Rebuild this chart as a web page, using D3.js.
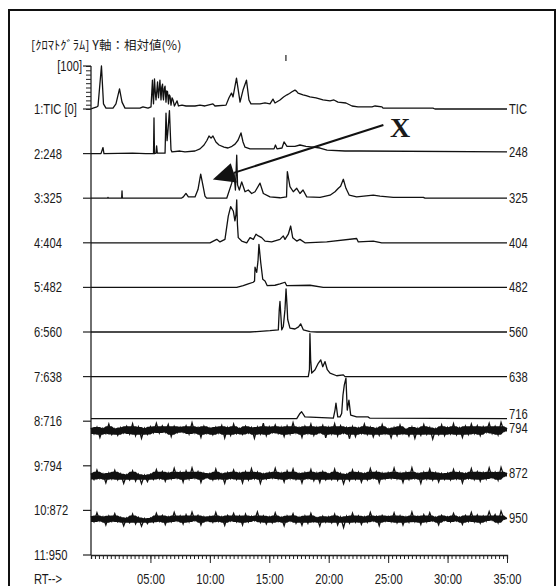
<!doctype html>
<html lang="ja">
<head>
<meta charset="utf-8">
<title>chromatogram</title>
<style>
body { margin: 0; background: #fff; }
svg text { font-family: "Liberation Sans", Arial, sans-serif; font-size: 14px; fill: #1a1a1a; }
.trace { fill: none; stroke: #111; stroke-width: 1.3; stroke-linejoin: round; }
.noise { fill: none; stroke: #111; stroke-width: 1.3; }
.noiseband { fill: #111; stroke: none; }
.axis path, .axis line { stroke: #222; }
</style>
</head>
<body>
<div id="chart"></div>
<script src="https://cdn.jsdelivr.net/npm/d3@7"></script>
<script>
// ---------- data (RT in minutes, intensity in % of each trace's max)
var leftLabels  = ["1:TIC [0]", "2:248", "3:325", "4:404", "5:482", "6:560", "7:638", "8:716", "9:794", "10:872", "11:950"];
var rightLabels = ["TIC", "248", "325", "404", "482", "560", "638", "716", "794", "872", "950"];
var timeTicks = [5, 10, 15, 20, 25, 30, 35];

var tic = [[0,0],[0.17,2],[0.5,5],[0.59,7],[0.88,100],[1.05,12],[1.26,2],[1.85,2],[2.1,12],[2.4,47],[2.61,16],[2.86,2],
  [4.12,2],[4.37,5],[4.8,2],[5.05,5],[5.17,67],[5.22,30],[5.26,12],[5.34,70],[5.42,35],[5.47,21],[5.6,63],[5.64,40],[5.68,26],
  [5.8,67],[5.84,45],[5.89,21],[5.95,50],[6.02,58],[6.06,30],[6.1,21],[6.17,48],[6.23,53],[6.31,16],[6.37,42],[6.44,40],
  [6.52,12],[6.58,33],[6.65,30],[6.73,9],[6.82,26],[6.9,21],[7.02,7],[7.24,19],[7.36,7],
  [7.66,9],[8.0,7],[8.75,7],[9.17,9],[9.59,7],[10.26,12],[10.43,7],[11.36,9],[11.61,26],[11.82,37],[11.95,28],[12.24,72],
  [12.54,16],[12.79,44],[13.08,67],[13.29,21],[13.46,12],[14.22,12],[14.64,14],[15.06,12],[15.31,23],[15.48,14],[15.9,21],
  [16.2,28],[16.49,33],[16.7,36],[16.91,40],[17.16,44],[17.3,41],[17.42,37],[17.84,33],[18.1,31],[18.42,28],[18.93,26],
  [19.52,21],[20.11,19],[20.44,21],[20.78,16],[21.45,14],[21.96,7],[22.46,5],[23.64,5],[23.9,7],[24.48,5],[24.57,2],
  [28.77,2],[28.94,0],[35,0]];
var ion248 = [[0,0],[0.84,0],[1.01,14],[1.09,0],[3.5,1],[4.6,0],[5.26,0],[5.3,83],[5.34,0],[5.47,1],[5.52,18],[5.58,1],
  [6.23,1],[6.31,94],[6.4,30],[6.48,55],[6.6,100],[6.73,9],[6.81,4],[7.49,6],[7.91,4],[8.75,6],[9.17,11],[9.51,20],
  [9.76,31],[9.93,41],[10.1,36],[10.26,41],[10.51,27],[10.77,20],[11.19,15],[11.53,13],[11.86,17],[12.12,22],[12.37,31],
  [12.62,48],[12.79,27],[12.96,15],[13.38,11],[15.4,11],[15.52,20],[15.65,11],[16.07,13],[16.24,27],[16.49,17],[17.16,17],
  [17.58,20],[18.09,17],[18.68,15],[19.27,13],[19.86,8],[21.37,6],[22.63,6],[35,4]];
var ion325 = [[0,0],[1.4,0],[1.43,2],[1.46,0],[2.58,0],[2.61,17],[2.64,0],[7.6,0],[7.77,3],[7.99,11],[8.19,3],[8.75,3],
  [9.0,20],[9.23,56],[9.45,25],[9.59,5],[9.73,0],[11.42,0],[11.84,35],[12.03,58],[12.15,19],[12.26,100],[12.33,31],
  [12.48,19],[12.68,38],[12.96,15],[13.23,19],[13.52,11],[13.8,15],[14.22,35],[14.5,11],[15.06,3],[15.9,1],[16.45,3],
  [16.52,62],[16.74,27],[17.02,15],[17.31,23],[17.58,11],[17.84,19],[18.15,3],[19.27,2],[20.11,7],[20.53,15],[20.81,23],
  [21.0,28],[21.23,44],[21.45,23],[21.73,7],[22.35,3],[23.75,7],[24.31,5],[25.43,2],[27.96,2],[28.1,0],[35,0]];
var ion404 = [[0,0],[10.01,0],[10.29,4],[10.58,8],[10.85,2],[11.27,8],[11.55,62],[11.75,84],[11.97,74],[12.11,51],[12.2,66],
  [12.26,100],[12.32,43],[12.39,12],[12.68,4],[13.1,0],[13.38,12],[13.66,8],[13.88,20],[14.08,16],[14.36,12],[14.64,4],
  [15.2,2],[15.9,8],[16.18,16],[16.32,8],[16.6,20],[16.8,39],[16.97,12],[17.31,4],[17.58,8],[18.0,0],[19.83,2],[22.35,10],
  [22.49,2],[23.75,4],[24.46,0],[35,0]];
var ion482 = [[0,0],[12.26,0],[12.81,4],[13.23,8],[13.65,12],[13.76,15],[13.8,47],[13.94,35],[14.05,61],[14.13,100],
  [14.28,58],[14.45,19],[14.64,15],[14.83,4],[15.48,5],[15.9,8],[16.32,12],[16.47,4],[18.43,5],[19.54,0],[35,0]];
var ion560 = [[0,0],[13.38,0],[13.94,1],[15.06,3],[15.76,5],[15.84,52],[15.9,71],[15.97,40],[16.05,5],[16.18,13],[16.32,52],
  [16.41,100],[16.49,63],[16.55,29],[16.74,9],[17.16,7],[17.46,12],[17.64,19],[17.86,5],[18.43,1],[19.0,0],[35,0]];
var ion638 = [[0,0],[18.28,0],[18.38,16],[18.42,100],[18.48,39],[18.57,8],[18.85,16],[19.12,31],[19.33,39],[19.5,23],
  [19.69,35],[19.88,16],[20.11,8],[20.67,2],[21.23,4],[21.37,0],[35,0]];
var ion716 = [[0,6],[17.31,6],[17.58,18],[17.72,22],[18.0,10],[20.39,7],[20.53,26],[20.61,42],[20.76,10],[20.95,10],
  [21.09,18],[21.2,61],[21.31,84],[21.45,100],[21.56,26],[21.7,49],[21.85,14],[22.35,10],[23.3,10],[23.47,7],[35,6]];

// noise-only channels, one reading per scan (scan every 0.25 min from 0 to 35)
var scanStep = 0.25;
var noise794 = [88,74,90,66,87,75,97,73,86,71, 89,76,92,74,98,70,90,64,87,73, 91,77,99,76,93,78,96,68,92,77,
  90,78,93,74,100,76,89,66,92,75, 88,72,90,76,94,65,89,71,97,75, 87,73,92,76,89,64,90,74,99,70,
  91,77,95,75,90,68,93,74,100,76, 89,66,92,75,97,71,90,77,94,65, 90,74,98,70,93,76,89,63,91,68,
  88,75,97,73,90,67,87,71,96,74, 86,65,89,70,95,74,85,69,90,64, 87,71,96,73,89,62,86,72,95,70,
  89,74,98,72,88,66,92,73,97,75, 93,70,91,78,99,75,92,72,101,80, 88];
var noise872 = [86,72,94,74,85,64,87,73,93,71, 85,63,83,71,92,68,84,62,82,67, 84,72,95,74,90,68,87,73,98,75,
  89,66,92,73,99,75,90,65,87,76, 86,71,96,73,85,63,88,74,94,72, 87,64,90,71,97,74,89,63,85,73,
  88,75,98,73,87,66,92,74,96,72, 86,64,88,74,95,69,87,65,90,71, 85,72,96,70,86,62,84,69,94,72,
  89,66,86,71,97,75,90,64,87,73, 88,74,98,73,87,65,89,72,99,74, 86,63,89,73,96,71,88,66,86,72,
  87,71,95,73,89,64,86,74,97,72, 90,68,88,73,99,76,89,70,100,79, 87];
var noise950 = [90,77,98,79,89,70,91,78,96,77, 88,68,86,75,95,72,87,67,85,73, 86,76,97,78,92,71,89,77,99,79,
  91,72,94,77,100,80,92,70,89,79, 90,76,99,78,89,69,92,79,97,77, 91,70,95,77,90,80,100,76,91,72,
  89,75,98,78,88,68,91,79,96,74, 88,69,91,74,97,77,87,67,90,76, 89,75,95,70,88,64,90,74,97,76,
  91,71,89,76,99,79,90,68,92,78, 90,77,98,75,91,70,89,76,100,77, 90,71,94,77,98,79,88,70,92,80,
  89,77,97,79,88,71,92,78,99,77, 93,74,91,79,101,81,94,75,102,83, 86];

var peakTraces = [tic, ion248, ion325, ion404, ion482, ion560, ion638, ion716];
var noiseTraces = [noise794, noise872, noise950];

// ---------- layout
var width = 556, height = 586;
var narrowK = 0.8;   // the instrument font is a condensed one
var svg = d3.select("#chart").append("svg").attr("width", width).attr("height", height);

var x = d3.scaleLinear().domain([0, 35]).range([91, 507]);
var row = d3.scaleLinear().domain([0, 10]).range([109, 555]);   // baseline of trace i
var amp = d3.scaleLinear().domain([0, 100]).range([0, 43]);      // 100% height
var labelShift = [0, 0, 0, 0, 0, 0, 0, -5, 0, 0, 0];

function narrow(sel, fx, fy) {
  sel.attr("transform", (d, i) => "translate(" + fx(d, i) + "," + fy(d, i) + ") scale(" + narrowK + ",1)");
}

// frame
svg.append("rect").attr("x", 9).attr("y", 10).attr("width", 546).attr("height", 600)
  .attr("fill", "none").attr("stroke", "#111").attr("stroke-width", 2);

svg.append("text").attr("x", 31).attr("y", 50)
  .style("font-family", "'Noto Sans CJK JP', sans-serif").style("font-size", "12.5px")
  .text("[ｸﾛﾏﾄｸﾞﾗﾑ]  Y軸：相対値(%)");

// little marker above TIC
svg.append("line").attr("x1", x(16.4)).attr("x2", x(16.4)).attr("y1", 55).attr("y2", 61)
  .attr("stroke", "#222").attr("stroke-width", 1.2);

// ---------- left axis
var yAxisG = svg.append("g").attr("class", "axis");
yAxisG.append("line").attr("x1", 91).attr("x2", 91).attr("y1", row(0) - amp(100)).attr("y2", row(10))
  .attr("stroke", "#222").attr("stroke-width", 1.3);

var ticY = d3.scaleLinear().domain([0, 100]).range([row(0), row(0) - amp(100)]);
yAxisG.append("g").attr("transform", "translate(91,0)")
  .call(d3.axisLeft(ticY).ticks(10).tickSize(5).tickFormat(""))
  .call(g => g.select(".domain").remove());

yAxisG.selectAll(".rowtick").data(leftLabels).enter().append("line")
  .attr("x1", 83).attr("x2", 91)
  .attr("y1", (d, i) => row(i)).attr("y2", (d, i) => row(i))
  .attr("stroke", "#222").attr("stroke-width", 1.2);
yAxisG.append("line").attr("x1", 83).attr("x2", 91).attr("y1", ticY(100)).attr("y2", ticY(100))
  .attr("stroke", "#222").attr("stroke-width", 1.2);

svg.selectAll(".leftlab").data(leftLabels).enter().append("text")
  .call(narrow, () => 34, (d, i) => row(i) + 5).text(d => d);
svg.append("text").attr("text-anchor", "end")
  .call(narrow, () => 82, () => ticY(100) + 5).text("[100]");

// ---------- bottom axis
var fmt = d3.format("02");
svg.append("g").attr("class", "axis").attr("transform", "translate(0," + row(10) + ")")
  .call(d3.axisBottom(x).tickValues(d3.range(0, 35.01, 1 / 3)).tickSize(4).tickFormat(""))
  .call(g => g.select(".domain").attr("stroke-width", 1.3));
var xAxisG = svg.append("g").attr("class", "axis").attr("transform", "translate(0," + row(10) + ")")
  .call(d3.axisBottom(x).tickValues(timeTicks).tickSize(8).tickPadding(11).tickFormat(d => fmt(d) + ":00"));
xAxisG.select(".domain").remove();
xAxisG.selectAll("text").style("font-size", "14px").attr("fill", "#1a1a1a")
  .attr("transform", "scale(" + narrowK + ",1)");
svg.append("text").call(narrow, () => 34, () => 584).text("RT-->");

// ---------- traces
var plot = svg.append("g");
peakTraces.forEach(function(data, i) {
  var line = d3.line().x(d => x(d[0])).y(d => row(i) - amp(d[1]));
  plot.append("path").attr("class", "trace").attr("d", line(data));
});
noiseTraces.forEach(function(vals, j) {
  var i = j + 8;
  // solid core of the band from neighbouring scans, spikes come from the scan line itself
  var lo = d3.quantile(vals, 0.2), hi = d3.quantile(vals, 0.8);
  var win = k => vals.slice(Math.max(0, k - 1), k + 2);
  var band = d3.area()
    .x((d, k) => x(k * scanStep))
    .y0((d, k) => row(i) - amp(Math.max(d3.min(win(k)), lo)))
    .y1((d, k) => row(i) - amp(Math.min(d3.max(win(k)), hi)));
  plot.append("path").attr("class", "noiseband").attr("d", band(vals));
  var line = d3.line().x((d, k) => x(k * scanStep)).y(d => row(i) - amp(d));
  plot.append("path").attr("class", "noise").attr("d", line(vals));
});

var endVals = peakTraces.map(d => d[d.length - 1][1]).concat(noiseTraces.map(d => d[d.length - 1]));
svg.selectAll(".rightlab").data(rightLabels).enter().append("text")
  .call(narrow, () => 509, (d, i) => row(i) - amp(endVals[i]) + 5 + labelShift[i]).text(d => d);

// ---------- annotation arrow
var tail = [x(24.6), row(0) + 16], tip = [x(10.25), row(1) + 26];
var dx = tip[0] - tail[0], dy = tip[1] - tail[1], len = Math.hypot(dx, dy);
var ux = dx / len, uy = dy / len;
var base = [tip[0] - 22 * ux, tip[1] - 22 * uy];
svg.append("line").attr("x1", tail[0]).attr("y1", tail[1]).attr("x2", base[0]).attr("y2", base[1])
  .attr("stroke", "#111").attr("stroke-width", 2);
svg.append("polygon").attr("fill", "#111")
  .attr("points", [tip, [base[0] - 10 * uy, base[1] + 10 * ux], [base[0] + 10 * uy, base[1] - 10 * ux]].map(p => p.join(",")).join(" "));
svg.append("text").attr("x", 390).attr("y", 137)
  .style("font-family", "'Liberation Serif', serif").style("font-size", "28px").style("font-weight", "bold")
  .text("X");
</script>
</body>
</html>
